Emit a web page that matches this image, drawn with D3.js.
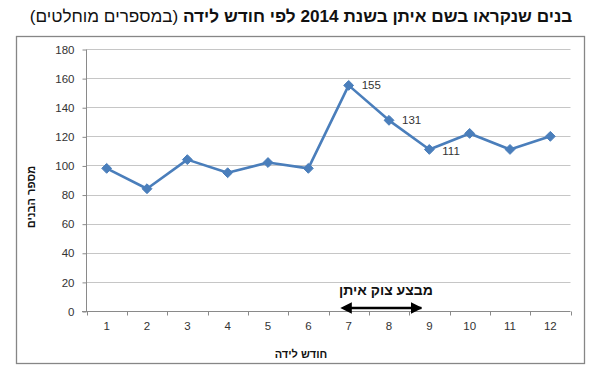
<!DOCTYPE html>
<html><head><meta charset="utf-8">
<script src="https://cdn.jsdelivr.net/npm/d3@7"></script>
<style>body{margin:0;background:#fff}svg{display:block}</style>
</head><body>
<script>
const months = ["1","2","3","4","5","6","7","8","9","10","11","12"];
const values = [98,84,104,95,102,98,155,131,111,122,111,120];
const labeledMonths = ["7","8","9"];
const yTicks = [0,20,40,60,80,100,120,140,160,180];
const titleBold = "בנים שנקראו בשם איתן בשנת 2014 לפי חודש לידה";
const titleNormal = " (במספרים מוחלטים)";
const yTitle = "מספר הבנים";
const xTitle = "חודש לידה";
const annotation = "מבצע צוק איתן";
const annotationRange = ["7","9"];

const W=601,H=378;
const svg=d3.select("body").append("svg").attr("width",W).attr("height",H);
const font="'Liberation Sans', Arial, sans-serif";

svg.append("text").attr("x",301).attr("y",22).attr("text-anchor","middle")
  .attr("direction","rtl").attr("font-family",font).attr("font-size",17.2).attr("fill","#111")
  .call(t=>{t.append("tspan").attr("font-weight","bold").text(titleBold);
            t.append("tspan").text(titleNormal);});

svg.append("rect").attr("x",16.5).attr("y",36.5).attr("width",568).attr("height",327)
  .attr("fill","#fff").attr("stroke","#868686").attr("stroke-width",1.3);

const x=d3.scaleBand().domain(months).range([86.5,570.5]);
const y=d3.scaleLinear().domain([0,180]).range([311,49]);

// gridlines
svg.append("g").selectAll("line").data(yTicks.filter(d=>d>0)).join("line")
  .attr("x1",86.5).attr("x2",570.5).attr("y1",d=>Math.round(y(d))+0.5).attr("y2",d=>Math.round(y(d))+0.5)
  .attr("stroke","#c6c6c6").attr("stroke-width",1);

// y axis
const ya=svg.append("g").attr("transform","translate(86.5,0.5)")
  .call(d3.axisLeft(y).tickValues(yTicks).tickSize(4).tickPadding(8));
ya.selectAll("text").attr("font-family",font).attr("font-size",11.5).attr("fill","#333");
ya.selectAll("line,path").attr("stroke","#8a8a8a");
ya.select(".domain").attr("d","M0,"+y(180)+"V"+y(0));

// x axis
const xa=svg.append("g").attr("transform","translate(0,"+(Math.round(y(0))+0.5)+")")
  .call(d3.axisBottom(x).tickSize(0).tickPadding(10));
xa.selectAll("text").attr("font-family",font).attr("font-size",11.5).attr("fill","#333");
xa.select(".domain").attr("stroke","#8a8a8a").attr("d","M82,0H570.5");
xa.selectAll(".tk").data(months.concat(["end"])).join("line").attr("class","tk")
  .attr("x1",(d,i)=>Math.round(86.5+i*x.step())+0.5).attr("x2",(d,i)=>Math.round(86.5+i*x.step())+0.5)
  .attr("y1",0).attr("y2",4).attr("stroke","#8a8a8a");

// axis titles
svg.append("text").attr("transform","translate(35,197) rotate(-90)").attr("text-anchor","middle")
  .attr("direction","rtl").attr("font-family",font).attr("font-size",11).attr("font-weight","bold").attr("fill","#111").text(yTitle);
svg.append("text").attr("x",301).attr("y",358).attr("text-anchor","middle")
  .attr("direction","rtl").attr("font-family",font).attr("font-size",11).attr("font-weight","bold").attr("fill","#111").text(xTitle);

// line
const cx=d=>x(d)+x.bandwidth()/2;
const data=months.map((m,i)=>({m,v:values[i]}));
svg.append("path").datum(data).attr("fill","none").attr("stroke","#4a7ebb").attr("stroke-width",2.6)
  .attr("stroke-linejoin","round")
  .attr("d",d3.line().x(d=>cx(d.m)).y(d=>y(d.v)));
svg.append("g").selectAll("path").data(data).join("path")
  .attr("transform",d=>`translate(${cx(d.m)},${y(d.v)})`)
  .attr("d",d3.symbol(d3.symbolDiamond2,62)()).attr("fill","#4a7ebb").attr("stroke","#4a7ebb").attr("stroke-width",1);

// data labels
svg.append("g").selectAll("text").data(data.filter(d=>labeledMonths.includes(d.m))).join("text")
  .attr("x",d=>cx(d.m)+13).attr("y",d=>y(d.v)+(d.m==="9"?6:4))
  .attr("font-family",font).attr("font-size",11.5).attr("fill","#333").text(d=>d.v);

// annotation arrow
const ax1=cx(annotationRange[0])+2, ax2=cx(annotationRange[1])-8, ay=308;
const defs=svg.append("defs");
["s","e"].forEach(k=>{
  defs.append("marker").attr("id","ar"+k).attr("viewBox","0 0 10 10").attr("refX",k==="e"?9:1).attr("refY",5)
    .attr("markerWidth",4.6).attr("markerHeight",4.6).attr("orient",k==="e"?"auto":"auto-start-reverse").attr("markerUnits","strokeWidth")
    .append("path").attr("d","M0,0L10,5L0,10z").attr("fill","#000");
});
svg.append("line").attr("x1",ax1).attr("x2",ax2).attr("y1",ay).attr("y2",ay)
  .attr("stroke","#000").attr("stroke-width",2.5).attr("marker-start","url(#ars)").attr("marker-end","url(#are)");
svg.append("text").attr("x",(ax1+ax2)/2).attr("y",295).attr("text-anchor","middle").attr("direction","rtl")
  .attr("font-family",font).attr("font-size",14).attr("font-weight","bold").attr("fill","#111").text(annotation);
</script>
</body></html>
